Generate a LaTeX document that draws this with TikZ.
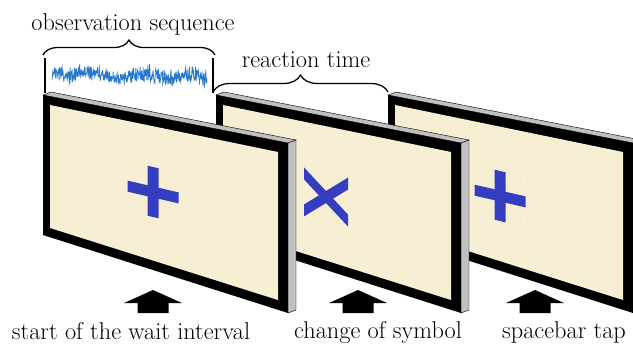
\documentclass[tikz,border=0pt]{standalone}
\usetikzlibrary{decorations.pathreplacing}
\definecolor{screen}{RGB}{247,239,211}
\definecolor{rim}{RGB}{192,192,192}
\definecolor{symb}{RGB}{52,62,190}
\definecolor{trace}{RGB}{40,122,200}
\definecolor{ghost}{RGB}{238,230,202}

% plus sign, slanted like the screen
\newcommand{\plussign}[1]{%
  \begin{scope}[shift={#1}, yslant=-0.23]
    \fill[symb] (-5.5,-25) rectangle (5.5,25);
    \fill[symb] (-25.5,-5.5) rectangle (25.5,5.5);
  \end{scope}}
% x sign, slanted like the screen
\newcommand{\crosssign}[2]{%
  \begin{scope}[shift={#1}, yslant=-0.23, #2]
    \path (-22,-24.5) -- (22,12.5) -- (22,24.5) -- (-22,-12.5) -- cycle;
    \path (-22,12.5) -- (22,-24.5) -- (22,-12.5) -- (-22,24.5) -- cycle;
  \end{scope}}

\begin{document}
\begin{tikzpicture}[x=0.25mm, y=-0.25mm]
  \tikzstyle{lbl} = [font=\fontsize{17.3}{20}\selectfont, inner sep=0pt, anchor=base]
  \tikzstyle{brc} = [decorate, line width=0.9pt]
  \tikzstyle{edge} = [fill=rim, draw=black, line width=0.3pt]
  \useasboundingbox (0,0) rectangle (633,349);
  \clip (0,0) rectangle (633,349);

  % three screens, back one first
  \foreach \dx in {345,173,0} {
    \begin{scope}[shift={(\dx,0)}]
      \draw[edge] (43,95) -- (51,92) -- (296,140) -- (288,143) -- cycle;
      \draw[edge] (288,143) -- (296,140) -- (296,310) -- (288,313) -- cycle;
      \fill[black] (43,95) -- (288,143) -- (288,313) -- (43,235) -- cycle;
      \fill[screen] (50,105) -- (278,152) -- (278,300) -- (50,228) -- cycle;
    \end{scope}
  }
  \crosssign{(502,196)}{every path/.style={draw=ghost, line width=0.25pt}, scale=1.15}
  \plussign{(500,196)}
  \crosssign{(326,197)}{every path/.style={fill=symb}}
  \plussign{(153,192)}

  % signal between the ticks
  \draw[line width=0.9pt] (45,58) -- (45,93);
  \draw[line width=0.9pt] (213,58) -- (213,93);
  \pgfmathsetseed{42}
  \draw[trace, line width=0.5pt] plot[domain=52:207, samples=460]
    (\x, {73 + 0.03*(\x-52) + 2*sin(7*\x) + 6.5*rand + 6*rand*abs(rand)});

  \coordinate (obsL) at (43,55);
  \coordinate (obsR) at (215,55);
  \coordinate (reactL) at (213,92);
  \coordinate (reactR) at (388,92);
  \draw[brc, decoration={brace, amplitude=3.75mm}] (obsL) -- (obsR);
  \draw[brc, decoration={brace, amplitude=4.25mm}] (reactL) -- (reactR);
  \node[lbl] (obs) at (133,30) {observation sequence};
  \node[lbl] (react) at (306,67) {reaction time};

  % event arrows
  \foreach \cx in {153,358,535}
    \fill (\cx-29,303) -- (\cx,290) -- (\cx+29,303) -- (\cx+15.5,303)
      -- (\cx+15.5,313) -- (\cx-15.5,313) -- (\cx-15.5,303) -- cycle;
  \node[lbl] (start) at (131,339) {start of the wait interval};
  \node[lbl] (change) at (378,338) {change of symbol};
  \node[lbl] (tap) at (564,338) {spacebar tap};
\end{tikzpicture}
\end{document}
